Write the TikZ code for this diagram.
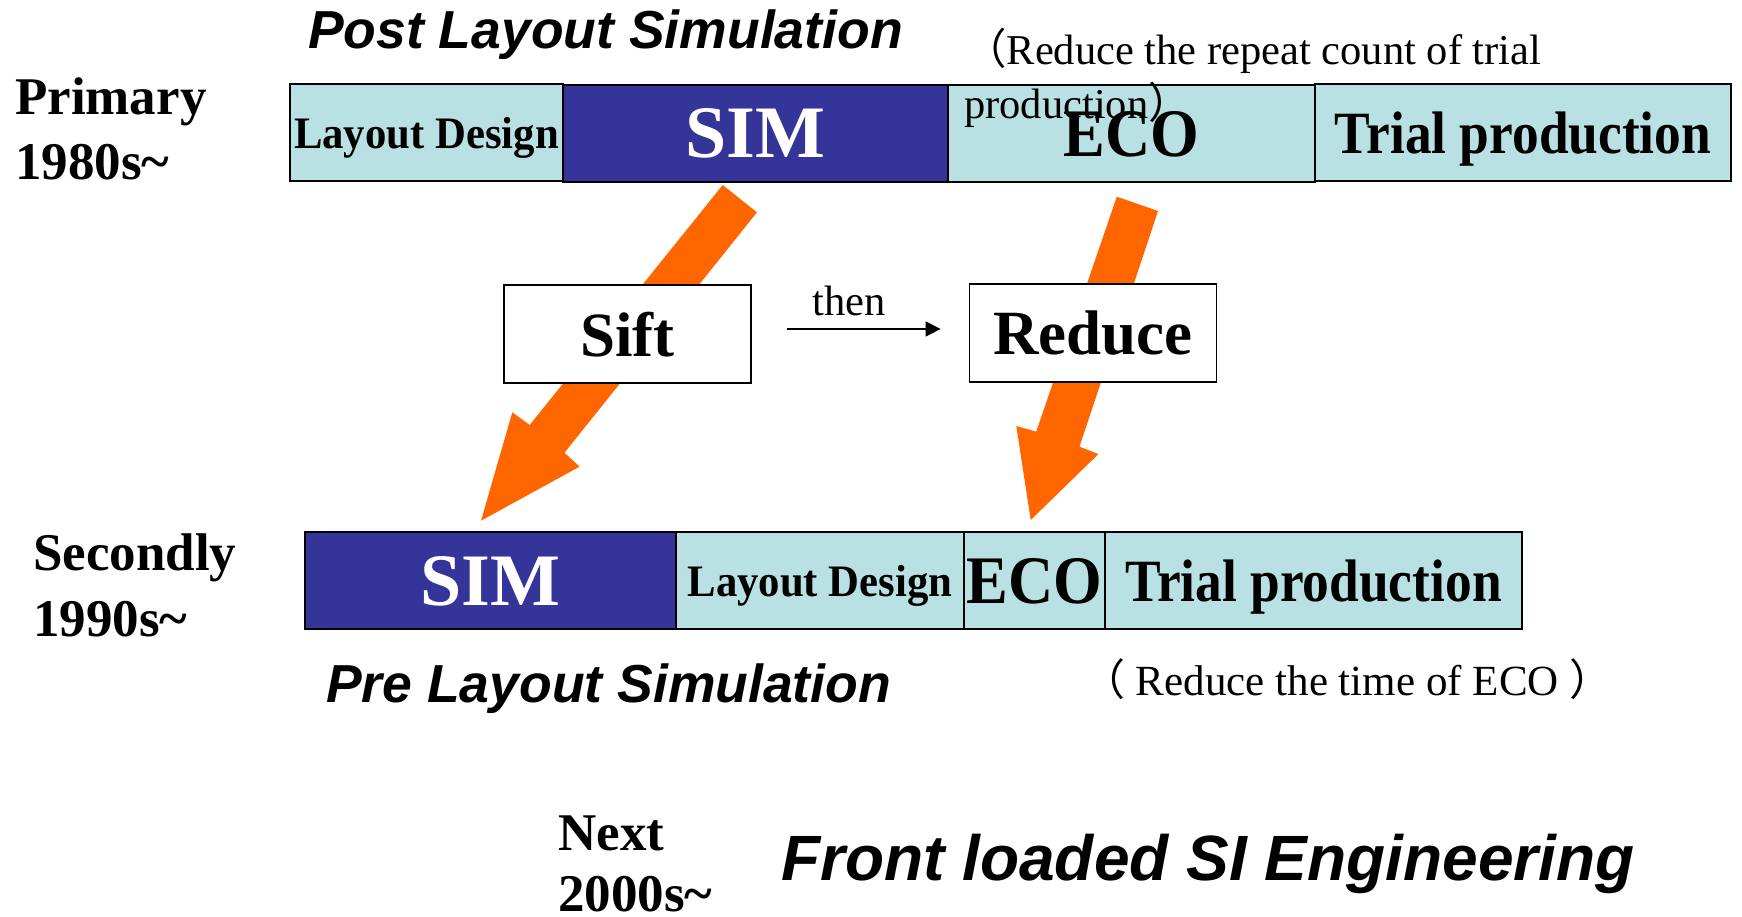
\documentclass[tikz,border=0pt]{standalone}
\usepackage{fontspec}
\usepackage{graphicx}
\setmainfont{Liberation Serif}
\newfontfamily\arialf{Liberation Sans}
\newfontfamily\cjkf{Noto Sans CJK SC}
\usetikzlibrary{arrows.meta}
\definecolor{boxcyan}{RGB}{185,224,227}
\definecolor{simblue}{RGB}{53,53,153}
\definecolor{arroworange}{RGB}{255,102,0}
\newcommand\fsz[1]{\fontsize{#1}{#1}\selectfont}
\newcommand\hsq[2]{\scalebox{#1}[1]{#2}}
\tikzset{
  stage/.style={draw=black, line width=1.8pt, inner sep=0pt, minimum height=97pt, text depth=0pt, font=\bfseries},
  cyanstage/.style={stage, fill=boxcyan},
  simstage/.style={stage, fill=simblue, text=white},
  keybox/.style={draw=black, line width=1.8pt, fill=white, inner sep=0pt, minimum width=247pt, minimum height=98pt, text depth=0pt, font=\bfseries\fsz{63}},
  era/.style={anchor=base west, inner sep=0pt, font=\bfseries\fsz{53}},
  banner/.style={anchor=base west, inner sep=0pt, font=\arialf\bfseries\itshape\fsz{53.5}},
  note/.style={inner sep=0pt, font=\fsz{42.5}},
  bigarrow/.style={fill=arroworange}
}
\begin{document}
\begin{tikzpicture}[x=1pt,y=-1pt]
\useasboundingbox[fill=white] (0,0) rectangle (1742,917);

% orange block arrows (behind the boxes)
\fill[bigarrow] (722.7,185) -- (757,212.3) -- (564.5,452.7) -- (579.5,466.7) -- (481,520.7) -- (512.3,412.3) -- (529.7,425) -- cycle;
\fill[bigarrow] (1116.8,196.7) -- (1158,211) -- (1079.5,446.7) -- (1098.4,454) -- (1030.7,520) -- (1016.3,426) -- (1036.2,431.7) -- cycle;

% top row
\node[cyanstage, minimum width=273pt] (tLD) at (426.5,132.5) {\fsz{45}\hsq{0.95}{Layout Design}};
\node[simstage, minimum width=385pt] (tSIM) at (755.5,133.5) {\fsz{74}SIM};
\node[cyanstage, minimum width=367pt] (tECO) at (1131.5,133.5) {\fsz{68}\hsq{0.92}{ECO}};
\node[cyanstage, minimum width=416pt] (tTR) at (1523,132.5) {\fsz{60}\hsq{0.89}{Trial production}};

% bottom row
\node[simstage, minimum width=371pt] (bSIM) at (490.5,580.5) {\fsz{74}SIM};
\node[cyanstage, minimum width=288pt] (bLD) at (820,580.5) {\fsz{45}\hsq{0.95}{Layout Design}};
\node[cyanstage, minimum width=141pt] (bECO) at (1034.5,580.5) {\fsz{68}\hsq{0.92}{ECO}};
\node[cyanstage, minimum width=417pt] (bTR) at (1313.5,580.5) {\fsz{60}\hsq{0.89}{Trial production}};

% middle
\node[keybox] (sift) at (627.5,334) {Sift};
\node[keybox] (reduce) at (1093,333) {Reduce};
\draw[-{Triangle[length=15pt,width=15pt]}, line width=1.5pt, shorten <=35pt, shorten >=28pt]
  ([yshift=5pt]sift.east) -- ([yshift=4pt]reduce.west)
  node[midway, above=12pt, xshift=-11pt, note] (then) {then};

% era labels
\node[era] (primary) at (15,115) {Primary};
\node[era] (y1980) at (15,180) {1980s\textasciitilde};
\node[era] (secondly) at (33,570) {Secondly};
\node[era] (y1990) at (33,636) {1990s\textasciitilde};
\node[era] (nextlbl) at (558,850) {Next};
\node[era] (y2000) at (558,911) {2000s\textasciitilde};

% banners
\node[banner] (post) at (308,49) {Post Layout Simulation};
\node[banner] (pre) at (326,702) {Pre Layout Simulation};
\node[banner, font=\arialf\bfseries\itshape\fsz{64}] (front) at (781,880) {Front loaded SI Engineering};

% notes
\node[note, anchor=base west] (notea) at (964,65) {{\cjkf （}Reduce the repeat count of trial};
\node[note, anchor=base west] (noteb) at (964,119) {production{\cjkf ）}};
\node[note, anchor=base west, font=\fsz{43}] (notec) at (1082,695) {{\cjkf （} Reduce the time of ECO {\cjkf ）}};
\end{tikzpicture}
\end{document}
